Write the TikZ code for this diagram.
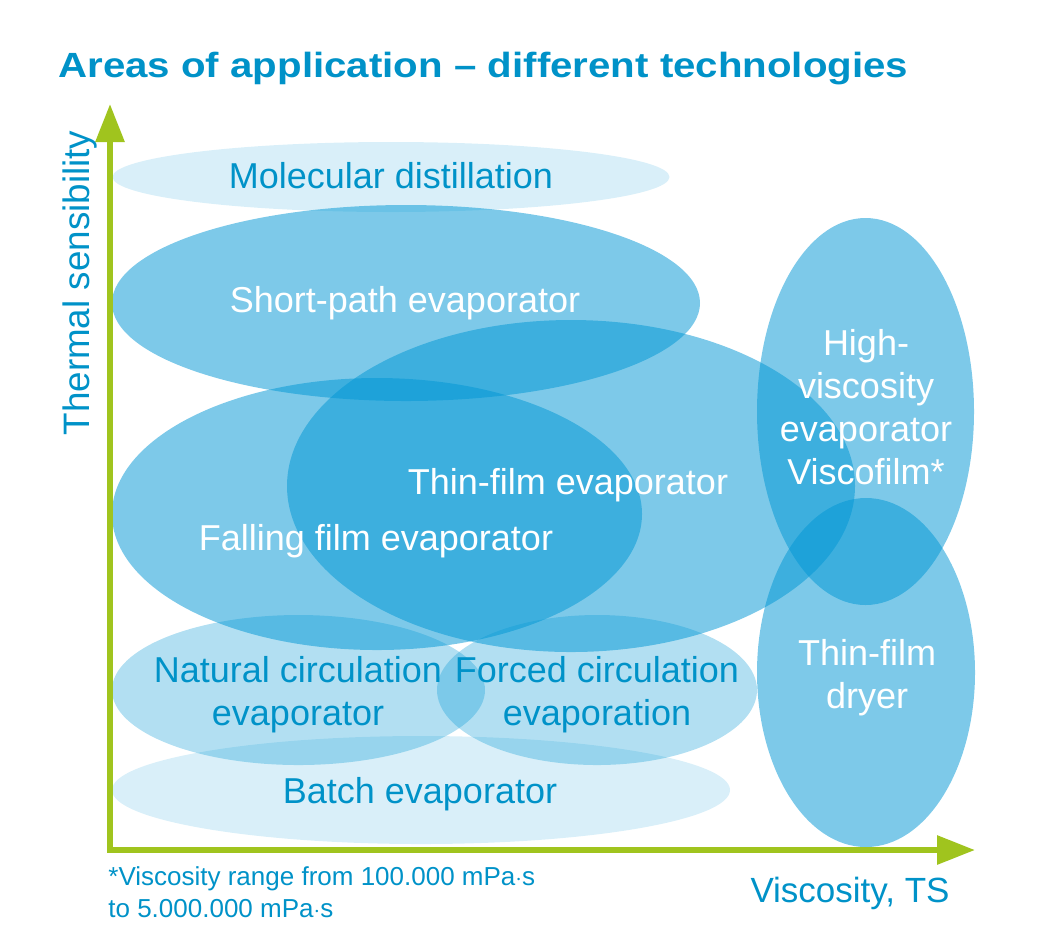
\documentclass[tikz,border=0pt]{standalone}
\usepackage{fontspec}
\setmainfont{Liberation Sans}
\usepackage{xcolor}
\usetikzlibrary{arrows.meta}
\definecolor{areablue}{RGB}{0,150,212}
\definecolor{labelblue}{RGB}{0,146,200}
\definecolor{axisgreen}{RGB}{160,196,30}

\begin{document}
\begin{tikzpicture}[x=0.5pt, y=-0.5pt,
    blobdark/.style={fill=areablue, fill opacity=0.51},
    blobsoft/.style={fill=areablue, fill opacity=0.30},
    bloblight/.style={fill=areablue, fill opacity=0.15},
    lbl/.style={font=\fontsize{18}{21.5}\selectfont, align=center, inner sep=0pt, text=labelblue},
    lblwhite/.style={lbl, text=white}]
      \useasboundingbox (0,0) rectangle (1047,950);
      % title
      \node[anchor=base west, inner sep=0pt, text=labelblue, font=\bfseries\fontsize{17.5}{20}\selectfont] (title) at (58,77)
        {\scalebox{1.15}[1]{Areas of application -- different technologies}};
      % areas
      \fill[bloblight] (391,177) ellipse [x radius=139.25pt, y radius=17.5pt];
      \fill[blobdark]  (406,303) ellipse [x radius=147pt, y radius=49pt];
      \fill[blobdark]  (571,486) ellipse [x radius=142pt, y radius=83pt];
      \fill[blobdark]  (377,514) ellipse [x radius=132.5pt, y radius=68pt];
      \fill[blobsoft]  (298.5,690) ellipse [x radius=93.25pt, y radius=37.5pt];
      \fill[blobsoft]  (597,690) ellipse [x radius=80pt, y radius=37.5pt];
      \fill[bloblight] (421,790) ellipse [x radius=154.5pt, y radius=27pt];
      \fill[blobdark]  (865.5,411.5) ellipse [x radius=54.25pt, y radius=96.75pt];
      \fill[blobdark]  (866,672.5) ellipse [x radius=54.5pt, y radius=87.25pt];
      % axes
      \draw[axisgreen, line width=3pt, line join=miter,
        {Triangle[length=19pt,width=14pt]}-{Triangle[length=19pt,width=14pt]}]
        (110,104) -- (110,850) -- (975,850);
      % labels
      \node[lbl, anchor=base] (molecular) at (391,188) {Molecular distillation};
      \node[lblwhite, anchor=base] (shortpath) at (405,312) {Short-path evaporator};
      \node[lblwhite, anchor=base] (thinfilm) at (568,494) {Thin-film evaporator};
      \node[lblwhite, anchor=base] (falling) at (376,550) {Falling film evaporator};
      \node[lbl] (natural) at (298,694.7) {Natural circulation\\evaporator};
      \node[lbl] (forced) at (597,694.7) {Forced circulation\\evaporation};
      \node[lbl, anchor=base] (batch) at (420,803) {Batch evaporator};
      \node[lblwhite] (highvisc) at (866,407) {High-\\viscosity\\evaporator\\Viscofilm*};
      \node[lblwhite] (dryer) at (867,677.7) {Thin-film\\dryer};
      % axis names
      \node[lbl, anchor=base, rotate=90, font=\fontsize{18.4}{22}\selectfont] (ylabel) at (89,283) {Thermal sensibility};
      \node[lbl, anchor=base, font=\fontsize{17.5}{21}\selectfont] (xlabel) at (850,902) {Viscosity, TS};
      \node[anchor=north west, align=left, inner sep=0pt, text=labelblue, font=\fontsize{13}{16}\selectfont] (note) at (108,866.4)
        {*Viscosity range from 100.000 mPa$\cdot$s\\to 5.000.000 mPa$\cdot$s};
\end{tikzpicture}
\end{document}
